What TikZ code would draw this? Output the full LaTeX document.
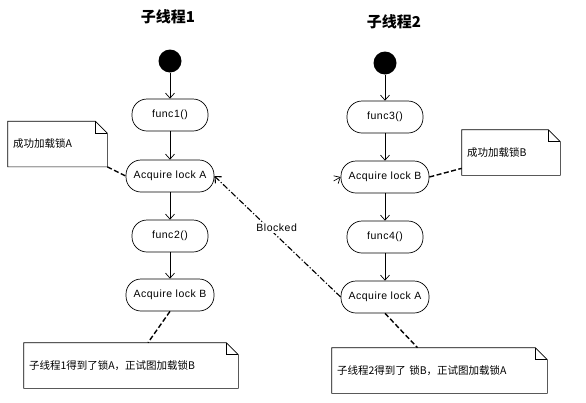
\documentclass[tikz,border=0pt]{standalone}
\usepackage{fontspec}
\setmainfont{Liberation Sans}[LetterSpace=5]
\newfontfamily\cjk{Noto Sans CJK SC}
\usetikzlibrary{positioning,arrows.meta}
\newcommand{\foldnote}[1]{\draw (#1.north west) -- ([xshift=-12pt]#1.north east) -- ([yshift=-12pt]#1.north east) -- (#1.south east) -- (#1.south west) -- cycle;
  \draw ([xshift=-12pt]#1.north east) |- ([yshift=-12pt]#1.north east);}

\begin{document}
\begin{tikzpicture}[x=1pt,y=-1pt,node distance=60pt,on grid,line width=0.7pt,
  >={Straight Barb[length=5pt,width=9pt]},
  every node/.style={font=\fontsize{10.5}{12}\selectfont},
  title/.style={font=\cjk\bfseries\fontsize{15}{18}\selectfont},
  start/.style={circle,fill=black,minimum size=23pt,inner sep=0pt},
  act/.style={draw,rounded corners=15pt,minimum width=76pt,minimum height=32pt},
  lock/.style={act,minimum width=88pt},
  note/.style={font=\cjk\fontsize{10.5}{12}\selectfont,minimum height=45pt,inner xsep=5pt,inner ysep=0pt,align=left},
  link/.style={dash pattern=on 5pt off 2.5pt,line width=1.4pt},
  blocked/.style={dash pattern=on 6pt off 2pt on 1.2pt off 2pt,line width=1.1pt}]
  \useasboundingbox (0,0) rectangle (586,402);
  \node[title](t1) at (168,17) {子线程1};
  \node[title](t2) at (394,22) {子线程2};
  \node[start](s1) at (170,61) {};
  \node[act](f1) [below=54pt of s1] {func1()};
  \node[lock](a1) [below=61pt of f1] {Acquire lock A};
  \node[act](f2) [below=of a1] {func2()};
  \node[lock](b1) [below=59pt of f2] {Acquire lock B};
  \node[start](s2) at (385,63) {};
  \node[act](f3) [below=54pt of s2] {func3()};
  \node[lock](b2) [below=of f3] {Acquire lock B};
  \node[act](f4) [below=of b2] {func4()};
  \node[lock](a2) [below=of f4] {Acquire lock A};
  \node[note,text width=89pt](n1) [above left=32pt and 112.5pt of a1] {成功加载锁A};
  \node[note,text width=88pt](n2) [above right=24.5pt and 126pt of b2] {成功加载锁B};
  \node[note,text width=204pt](n3) [below left=70.5pt and 39pt of b1] {子线程1得到了锁A，正试图加载锁B};
  \node[note,text width=205pt](n4) [below right=73.5pt and 54.5pt of a2] {子线程2得到了 锁B，正试图加载锁A};
  \foldnote{n1} \foldnote{n2} \foldnote{n3} \foldnote{n4}
  \path[->] (s1) edge (f1) (f1) edge (a1) (a1) edge (f2) (f2) edge (b1)
            (s2) edge (f3) (f3) edge (b2) (b2) edge (f4) (f4) edge (a2);
  \coordinate (c2) at ([xshift=-7pt,yshift=-4pt]b2.west);
  \draw[->] (c2) -- (b2.west);
  \draw[blocked,->] (a2.west) -- node[pos=0.57,xshift=8pt,fill=white,inner sep=1pt]{Blocked} (a1.east);
  \draw[link] (n1.south east) -- (a1.west);
  \draw[link] (b2.east) -- ([yshift=7pt]n2.south west);
  \draw[link] (b1.south) -- ([xshift=17pt]n3.north);
  \draw[link] (a2.south) -- ([xshift=-22pt]n4.north);
\end{tikzpicture}
\end{document}
